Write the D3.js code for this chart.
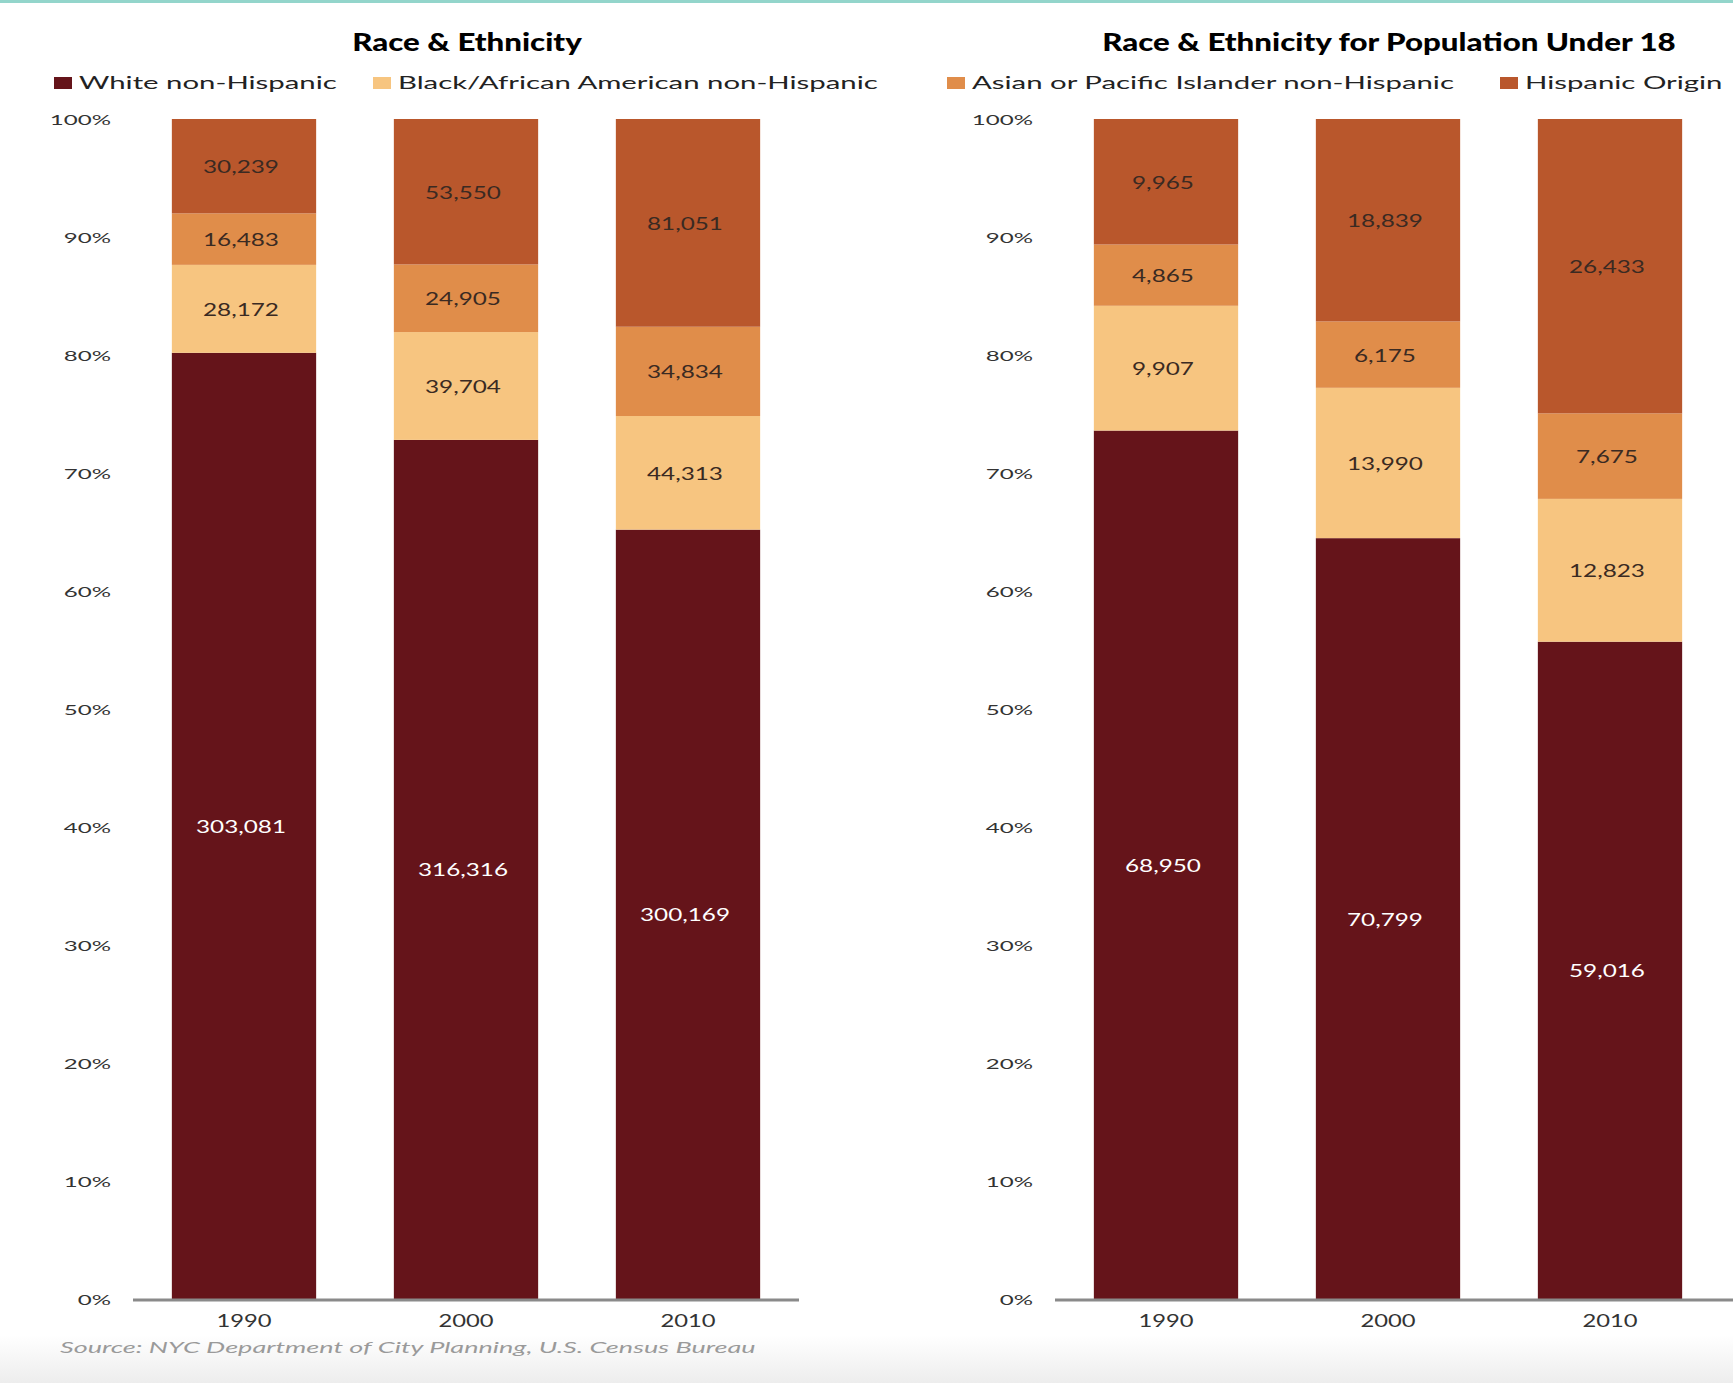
<!DOCTYPE html>
<html>
<head>
<meta charset="utf-8">
<script src="https://cdn.jsdelivr.net/npm/d3@7"></script>
<style>
  html, body { margin: 0; padding: 0; background: #fff; }
  svg { display: block; }
</style>
</head>
<body>
<svg id="chart" width="1733" height="1383"></svg>
<script>
const years = ['1990', '2000', '2010']
const categories = [
  'White non-Hispanic',
  'Black/African American non-Hispanic',
  'Asian or Pacific Islander non-Hispanic',
  'Hispanic Origin'
]
const colors = ['#65141a', '#f7c580', '#e08d4a', '#b9572c']

// total population
const whiteAll = [303081, 316316, 300169]
const blackAll = [28172, 39704, 44313]
const asianAll = [16483, 24905, 34834]
const hispanicAll = [30239, 53550, 81051]

// population under 18
const whiteU18 = [68950, 70799, 59016]
const blackU18 = [9907, 13990, 12823]
const asianU18 = [4865, 6175, 7675]
const hispanicU18 = [9965, 18839, 26433]

const titles = ['Race & Ethnicity', 'Race & Ethnicity for Population Under 18']
const source = 'Source: NYC Department of City Planning, U.S. Census Bureau'

const W = 1733, H = 1383
const FONT = 'Lato, "DejaVu Sans", sans-serif'
const keys = ['white', 'black', 'asian', 'hispanic']

const svg = d3.select('#chart')

// the original type is wide, so widen text glyphs by a factor
const stretch = (sel, k) => {
  sel.each(function () {
    const len = this.getComputedTextLength()
    d3.select(this).attr('textLength', len * k).attr('lengthAdjust', 'spacingAndGlyphs')
  })
}

// light grey fade at the bottom of the page
const grad = svg.append('defs').append('linearGradient')
  .attr('id', 'fade').attr('x1', 0).attr('y1', 0).attr('x2', 0).attr('y2', 1)
grad.append('stop').attr('offset', '0%').attr('stop-color', '#ffffff')
grad.append('stop').attr('offset', '100%').attr('stop-color', '#ededed')
svg.append('rect').attr('x', 0).attr('y', 1335).attr('width', W).attr('height', H - 1335)
  .attr('fill', 'url(#fade)')

// teal rule on top
svg.append('rect').attr('x', 0).attr('y', 0).attr('width', W).attr('height', 3).attr('fill', '#93d5cb')

const y = d3.scaleLinear().domain([0, 1]).range([1299, 119])

function rows(w, b, a, h) {
  return years.map((yr, i) => ({ year: yr, white: w[i], black: b[i], asian: a[i], hispanic: h[i] }))
}

function renderPanel(g, data, opts) {
  const x = d3.scaleBand().domain(years)
    .range([opts.x0, opts.x1])
    .paddingInner(0.35).paddingOuter(0.175)

  const series = d3.stack().keys(keys).offset(d3.stackOffsetExpand)(data)

  // title
  g.append('text')
    .attr('x', opts.titleX).attr('y', 51)
    .attr('text-anchor', 'middle')
    .attr('font-family', FONT).attr('font-weight', 900)
    .attr('font-size', 25)
    .attr('fill', '#000')
    .text(opts.title)
    .call(stretch, 1.25)

  // y axis labels
  g.append('g').selectAll('text')
    .data(d3.range(0, 1.01, 0.1))
    .join('text')
    .attr('x', opts.x0 - 22)
    .attr('y', d => y(d) + 6)
    .attr('text-anchor', 'end')
    .attr('font-family', FONT).attr('font-size', 14)
    .attr('fill', '#333')
    .text(d => d3.format('.0%')(d))
    .call(stretch, 1.72)

  // stacked bars
  const layers = g.append('g').selectAll('g')
    .data(series)
    .join('g')
    .attr('fill', (d, i) => colors[i])

  layers.selectAll('rect')
    .data(d => d)
    .join('rect')
    .attr('x', d => x(d.data.year))
    .attr('width', x.bandwidth())
    .attr('y', d => y(d[1]))
    .attr('height', d => y(d[0]) - y(d[1]))

  // value labels
  g.append('g').selectAll('g')
    .data(series)
    .join('g')
    .each(function (s, i) {
      d3.select(this).selectAll('text')
        .data(s)
        .join('text')
        .attr('x', d => x(d.data.year) + x.bandwidth() / 2 - 3)
        .attr('y', d => (y(d[0]) + y(d[1])) / 2 + 7)
        .attr('text-anchor', 'middle')
        .attr('font-family', FONT).attr('font-size', 18)
        .attr('fill', i === 0 ? '#ffffff' : '#3a2a22')
        .text(d => d3.format(',')(d.data[s.key]))
        .call(stretch, 1.35)
    })

  // baseline
  g.append('line')
    .attr('x1', opts.x0).attr('x2', opts.lineEnd)
    .attr('y1', y(0) + 1).attr('y2', y(0) + 1)
    .attr('stroke', '#8a8a8a').attr('stroke-width', 3)

  // x axis labels
  g.append('g').selectAll('text')
    .data(years)
    .join('text')
    .attr('x', d => x(d) + x.bandwidth() / 2)
    .attr('y', 1327)
    .attr('text-anchor', 'middle')
    .attr('font-family', FONT).attr('font-size', 18)
    .attr('fill', '#333')
    .text(d => d)
    .call(stretch, 1.32)
}

renderPanel(svg.append('g'), rows(whiteAll, blackAll, asianAll, hispanicAll),
  { x0: 133, x1: 799, lineEnd: 799, titleX: 467, title: titles[0] })
renderPanel(svg.append('g'), rows(whiteU18, blackU18, asianU18, hispanicU18),
  { x0: 1055, x1: 1721, lineEnd: 1733, titleX: 1389, title: titles[1] })

// legend
const legendX = [54, 373, 947, 1500]
const legend = svg.append('g').selectAll('g')
  .data(categories)
  .join('g')
  .attr('transform', (d, i) => `translate(${legendX[i]}, 83)`)

legend.append('rect')
  .attr('x', 0).attr('y', -6).attr('width', 18).attr('height', 12)
  .attr('fill', (d, i) => colors[i])

legend.append('text')
  .attr('x', 25).attr('y', 6)
  .attr('font-family', FONT).attr('font-size', 18)
  .attr('fill', '#222')
  .text(d => d)
  .call(stretch, 1.63)

// source note
svg.append('text')
  .attr('x', 60).attr('y', 1353)
  .attr('font-family', FONT).attr('font-style', 'italic')
  .attr('font-size', 16)
  .attr('fill', '#9a9a9a')
  .text(source)
  .call(stretch, 1.69)
</script>
</body>
</html>
